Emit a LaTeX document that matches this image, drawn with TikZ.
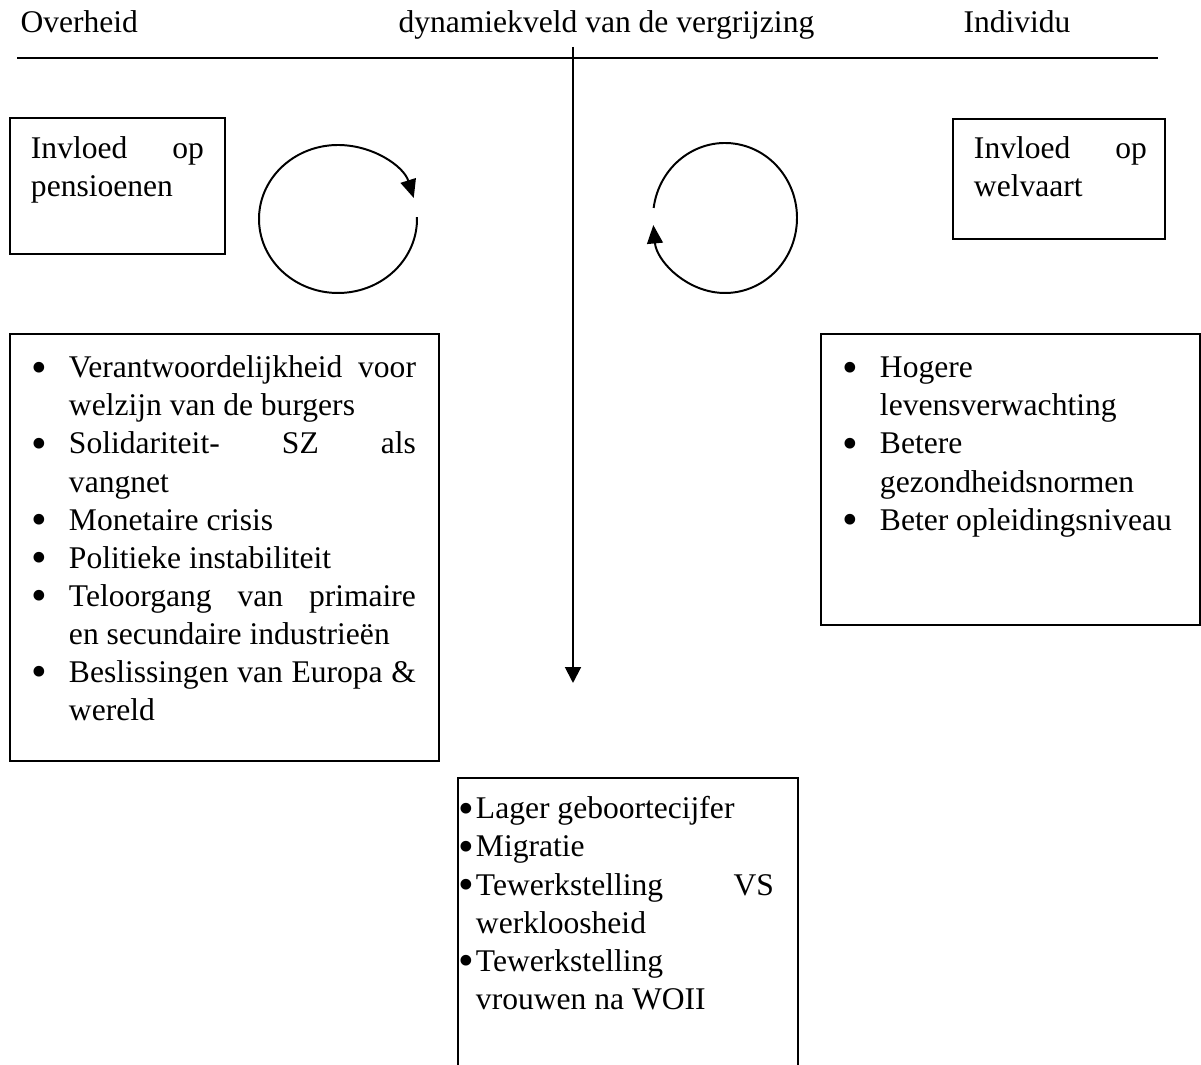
\documentclass[tikz,border=0pt]{standalone}
\usepackage{fontspec}
\setmainfont{Liberation Serif}
\usetikzlibrary{arrows.meta}

\newdimen\px \px=0.3802pt
\newdimen\bulhang
\newcommand\bodyfont{\fontsize{12}{14.45}\selectfont
  \hyphenpenalty=10000 \exhyphenpenalty=10000 \tolerance=9999
  \spaceskip=.25em plus 1em\relax}
\newcommand\bulglyph{\raisebox{-1.6pt}{\fontsize{17}{17}\selectfont\textbullet}}
\newcommand\bul{\par\noindent\hangindent=\bulhang\hangafter=1
  \makebox[\bulhang][l]{\bulglyph}\strut\ignorespaces}
\newcommand\boxtext[6]{\parbox[t][#2\px][t]{#1\px}{\leftskip=#3\px
  \rightskip=#4\px\relax\vspace*{#5\px}#6\par}}

\begin{document}
\begin{tikzpicture}[x=0.3802pt, y=-0.3802pt,
  every node/.style={font=\bodyfont},
  kop/.style={anchor=base west, inner sep=0pt},
  kader/.style={draw, line width=.75pt, anchor=north west, inner sep=0pt},
  lijn/.style={line width=.75pt},
  pijl/.style={line width=.75pt, -{Triangle[length=6pt, width=6pt]}},
  ronde/.style={line width=.75pt, -{Triangle[length=7pt, width=6pt]}},
]
\useasboundingbox (0,0) rectangle (1201,1065);

\node[kop] (overheid) at (20,33) {Overheid};
\node[kop] (veld) at (398,33) {dynamiekveld van de vergrijzing};
\node[kop] (individu) at (963,33) {Individu};

\coordinate (lijnL) at (17,58);
\coordinate (lijnR) at (1158,58);
\coordinate (pijlA) at (573,47);
\coordinate (pijlB) at (573,683);
\draw[lijn] (lijnL) -- (lijnR);
\draw[pijl] (pijlA) -- (pijlB);

\node[kader] (pensioen) at (9,117)
  {\boxtext{215}{136}{21}{21}{14.4}{\strut Invloed op pensioenen}};
\node[kader] (welvaart) at (952,118)
  {\boxtext{212}{120}{21}{18}{13.4}{\strut Invloed op welvaart}};

\coordinate (cirkelL) at (338,219);
\coordinate (cirkelR) at (725,218);
\draw[ronde] (cirkelL) ++(-1.5:79 and 74)
  arc[start angle=-1.5, end angle=343.5, x radius=79, y radius=74];
\draw[ronde] (cirkelR) ++(187.7:72 and 75)
  arc[start angle=187.7, end angle=534.6, x radius=72, y radius=75];

\node[kader] (overheidlijst) at (9,333)
  {\boxtext{429}{427}{22}{23}{17.4}{\bulhang=37\px
    \bul Verantwoordelijkheid voor welzijn van de burgers
    \bul Solidariteit- SZ als\linebreak vangnet
    \bul Monetaire crisis
    \bul Politieke instabiliteit
    \bul Teloorgang van primaire en secundaire industrieën
    \bul Beslissingen van Europa \& wereld}};
\node[kader] (individulijst) at (820,333)
  {\boxtext{379}{291}{22}{20}{17.4}{\bulhang=37\px
    \bul Hogere levensverwachting
    \bul Betere gezondheidsnormen
    \bul Beter opleidingsniveau}};
\node[kader] (oorzaken) at (457,777)
  {\boxtext{340}{300}{1}{24}{14.4}{\bulhang=17\px
    \bul Lager geboortecijfer
    \bul Migratie
    \bul Tewerkstelling VS werkloosheid
    \bul Tewerkstelling vrouwen na WOII}};
\end{tikzpicture}
\end{document}
